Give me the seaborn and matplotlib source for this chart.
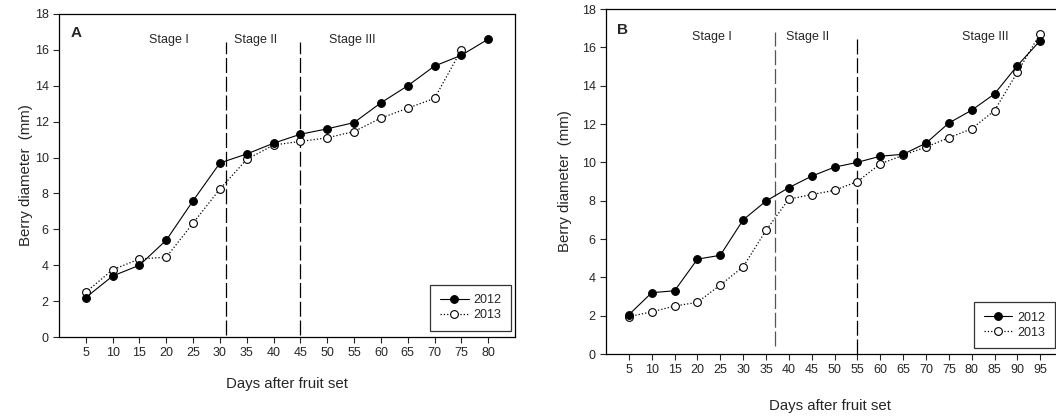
import seaborn as sns
import matplotlib.pyplot as plt
import pandas as pd
import numpy as np

# panel A data
days_a = [5, 10, 15, 20, 25, 30, 35, 40, 45, 50, 55, 60, 65, 70, 75, 80]
a_2012 = [2.2, 3.4, 4.0, 5.4, 7.6, 9.7, 10.2, 10.8, 11.3, 11.6, 11.95, 13.05, 14.0, 15.1, 15.7, 16.6]
days_a13 = [5, 10, 15, 20, 25, 30, 35, 40, 45, 50, 55, 60, 65, 70, 75]
a_2013 = [2.5, 3.75, 4.35, 4.45, 6.35, 8.25, 9.9, 10.7, 10.9, 11.1, 11.45, 12.2, 12.75, 13.3, 16.0]

# panel B data
days_b = [5, 10, 15, 20, 25, 30, 35, 40, 45, 50, 55, 60, 65, 70, 75, 80, 85, 90, 95]
b_2012 = [2.05, 3.2, 3.3, 4.95, 5.15, 7.0, 7.98, 8.68, 9.28, 9.75, 10.0, 10.32, 10.42, 11.0, 12.05, 12.72, 13.57, 15.05, 16.35]
b_2013 = [1.95, 2.2, 2.5, 2.7, 3.6, 4.55, 6.45, 8.08, 8.32, 8.54, 9.0, 9.92, 10.37, 10.8, 11.28, 11.75, 12.7, 14.7, 16.72]

stage_lines_a = [31.2, 45]
stage_lines_b = [37, 55]
stage_names = ['Stage I', 'Stage II', 'Stage III']
stage_text_a = [20.5, 36.7, 54.6]
stage_text_b = [23.2, 44.0, 83.0]

sns.set_style('ticks')
plt.rcParams['font.family'] = ['Liberation Sans', 'DejaVu Sans']

fig = plt.figure(figsize=(10.56, 4.19), dpi=100)
ax1 = fig.add_axes([0.0559, 0.1957, 0.4318, 0.7709])
ax2 = fig.add_axes([0.5739, 0.1551, 0.4328, 0.8234])


def draw(ax, x12, y12, x13, y13, xmax, ticks, vlines, vcolors, vspans, stx, letter, legpos):
    sns.lineplot(x=x12, y=y12, ax=ax, color='black', lw=0.8, marker='o', markersize=5.6,
                 markerfacecolor='black', markeredgecolor='black', label='2012', zorder=4)
    sns.lineplot(x=x13, y=y13, ax=ax, color='black', lw=0.9, linestyle=':', marker='o', markersize=5.6,
                 markerfacecolor='white', markeredgecolor='black', markeredgewidth=0.8, label='2013', zorder=3)
    for xv, c, (lo, hi) in zip(vlines, vcolors, vspans):
        ax.plot([xv, xv], [lo, hi], color=c, lw=0.9, dashes=(12, 3), zorder=2)
    for xs, name in zip(stx, stage_names):
        ax.text(xs, 16.55, name, ha='center', va='center', fontsize=9)
    ax.text(0.025, 0.94, letter, transform=ax.transAxes, fontsize=11, fontweight='bold', va='center')
    ax.set_xlim(0, xmax)
    ax.set_ylim(0, 18)
    ax.set_xticks(ticks)
    ax.set_yticks(np.arange(0, 19, 2))
    ax.tick_params(direction='out', length=4, width=0.8, labelsize=9, top=False, right=False)
    for s in ax.spines.values():
        s.set_linewidth(0.9)
        s.set_color('black')
    ax.set_xlabel('Days after fruit set', fontsize=10.8)
    ax.set_ylabel('Berry diameter  (mm)', fontsize=10.8)
    leg = ax.legend(loc='lower right', bbox_to_anchor=legpos, frameon=True, fancybox=False,
                    edgecolor='black', fontsize=9, handlelength=2.3, handletextpad=0.4,
                    borderpad=0.75, labelspacing=0.25, borderaxespad=0)
    leg.get_frame().set_linewidth(0.9)


draw(ax1, days_a, a_2012, days_a13, a_2013, 85, np.arange(5, 81, 5), stage_lines_a,
     ['black', 'black'], [(0.1, 16.45), (0.1, 16.45)], stage_text_a, 'A', (0.991, 0.02))
ax1.xaxis.set_label_coords(0.5, -0.124)
ax1.yaxis.set_label_coords(-0.058, 0.5)

draw(ax2, days_b, b_2012, days_b, b_2013, 100, np.arange(5, 96, 5), stage_lines_b,
     ['#555555', 'black'], [(0.4, 16.8), (0.0, 16.5)], stage_text_b, 'B', (0.982, 0.017))
ax2.xaxis.set_label_coords(0.49, -0.13)
ax2.yaxis.set_label_coords(-0.074, 0.5)

fig.savefig('out.png', dpi=100)
